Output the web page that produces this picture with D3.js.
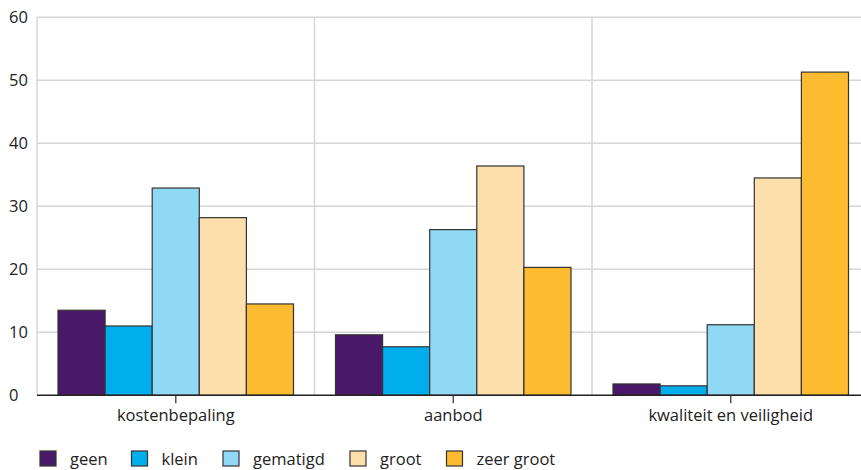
<!DOCTYPE html>
<html><head><meta charset="utf-8">
<script src="https://cdn.jsdelivr.net/npm/d3@7"></script>
<style>
body{margin:0;background:#fff;}
svg text{font-family:"Open Sans","Noto Sans",sans-serif;fill:#222;}
</style></head>
<body><svg id="c" width="861" height="470"></svg>
<script>
const categories = ["kostenbepaling", "aanbod", "kwaliteit en veiligheid"];
const seriesNames = ["geen", "klein", "gematigd", "groot", "zeer groot"];
const geen = [13.5, 9.6, 1.8];
const klein = [11.0, 7.7, 1.5];
const gematigd = [32.9, 26.3, 11.2];
const groot = [28.2, 36.4, 34.5];
const zeerGroot = [14.5, 20.3, 51.3];
const yTicks = [0, 10, 20, 30, 40, 50, 60];
const colors = ["#4a1868", "#00aeec", "#8fd8f6", "#fddfab", "#fdbb30"];

(function () {
const seriesValues = [geen, klein, gematigd, groot, zeerGroot];
const svg = d3.select("#c");
const mLeft = 37, mRight = 869.5, mTop = 17.3, mBottom = 395.3;
const fs = 16.5;

const x = d3.scaleBand().domain(categories).range([mLeft, mRight]).paddingInner(0).paddingOuter(0);
const inner = 21;
const xs = d3.scaleBand().domain(seriesNames).range([inner, x.bandwidth() - inner]).padding(0);
const y = d3.scaleLinear().domain([0, 60]).range([mBottom, mTop]);

svg.append("g").selectAll("line").data(yTicks.filter(d => d > 0)).join("line")
  .attr("x1", mLeft).attr("x2", 861).attr("y1", d => y(d)).attr("y2", d => y(d))
  .attr("stroke", "#d6d6d6").attr("stroke-width", 1.5);
svg.append("g").selectAll("line").data(categories).join("line")
  .attr("x1", d => x(d)).attr("x2", d => x(d)).attr("y1", mTop).attr("y2", mBottom)
  .attr("stroke", "#d6d6d6").attr("stroke-width", 1.5);

svg.append("g").selectAll("text").data(yTicks).join("text")
  .attr("x", 9).attr("y", d => y(d)).attr("dy", "0.35em")
  .attr("font-size", fs).attr("fill", "#333").text(d => d);

const rows = [];
categories.forEach((c, i) => seriesNames.forEach((s, j) => rows.push({c, s, v: seriesValues[j][i], col: colors[j]})));
svg.append("g").selectAll("rect").data(rows).join("rect")
  .attr("x", d => x(d.c) + xs(d.s)).attr("width", xs.bandwidth())
  .attr("y", d => y(d.v)).attr("height", d => y(0) - y(d.v))
  .attr("fill", d => d.col).attr("stroke", "#333").attr("stroke-width", 1.2);

const xAxis = d3.axisBottom(x).tickSize(8).tickPadding(6);
const gx = svg.append("g").attr("transform", `translate(0,${mBottom})`).call(xAxis);
gx.select(".domain").remove();
gx.selectAll(".tick line").attr("stroke", "#555").attr("stroke-width", 1.5);
gx.selectAll(".tick text").attr("font-size", fs).attr("fill", "#222")
  .style("font-family", '"Open Sans","Noto Sans",sans-serif');
svg.append("line").attr("x1", mLeft).attr("x2", 861).attr("y1", mBottom).attr("y2", mBottom)
  .attr("stroke", "#222").attr("stroke-width", 1.5);

const legX = [40, 131.5, 223, 350, 446.5];
const leg = svg.append("g").selectAll("g").data(seriesNames).join("g")
  .attr("transform", (d, i) => `translate(${legX[i]},451)`);
leg.append("rect").attr("width", 16).attr("height", 15)
  .attr("fill", (d, i) => colors[i]).attr("stroke", "#333").attr("stroke-width", 1.2);
leg.append("text").attr("x", 30).attr("y", 8).attr("dy", "0.35em")
  .attr("font-size", fs).text(d => d);
})();
</script></body></html>
